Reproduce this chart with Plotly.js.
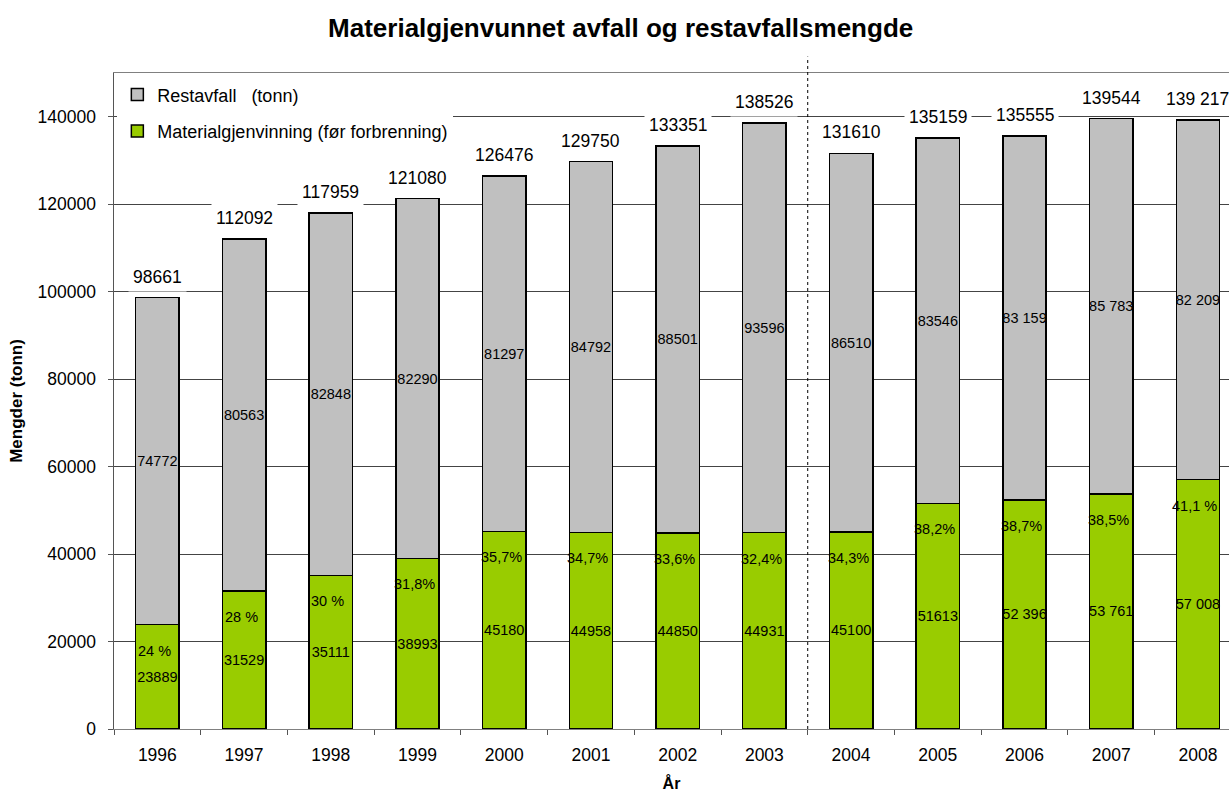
<!DOCTYPE html>
<html>
<head>
<meta charset="utf-8">
<script src="https://cdn.plot.ly/plotly-3.0.1.min.js"></script>
<style>html,body{margin:0;padding:0;background:#fff;}#chart{width:1229px;height:792px;}</style>
</head>
<body>
<div id="chart"></div>
<script>
const years = ['1996','1997','1998','1999','2000','2001','2002','2003','2004','2005','2006','2007','2008'];
const restavfall = [74772,80563,82848,82290,81297,84792,88501,93596,86510,83546,83159,85783,82209];
const materialgjenvinning = [23889,31529,35111,38993,45180,44958,44850,44931,45100,51613,52396,53761,57008];
const totals = [98661,112092,117959,121080,126476,129750,133351,138526,131610,135159,135555,139544,139217];
const restLabels = ['74772','80563','82848','82290','81297','84792','88501','93596','86510','83546','83 159','85 783','82 209'];
const matLabels = ['23889','31529','35111','38993','45180','44958','44850','44931','45100','51613','52 396','53 761','57 008'];
const totalLabels = ['98661','112092','117959','121080','126476','129750','133351','138526','131610','135159','135555','139544','139 217'];
const pctLabels = ['24 %','28 %','30 %','31,8%','35,7%','34,7%','33,6%','32,4%','34,3%','38,2%','38,7%','38,5%','41,1 %'];
const separatorAfter = '2003';

const FONT = 'Liberation Sans, Arial, sans-serif';

const traceMat = {
  type: 'bar', name: 'Materialgjenvinning (før forbrenning)', legendgroup: 'b', legendrank: 2,
  x: years, y: materialgjenvinning, text: matLabels,
  textposition: 'inside', insidetextanchor: 'middle', constraintext: 'none', textangle: 0,
  textfont: {family: FONT, size: 14.5, color: '#000'},
  marker: {color: '#99CC00', line: {color: '#000', width: 1.5}},
  width: 0.5, hoverinfo: 'skip', cliponaxis: false
};
const traceRest = {
  type: 'bar', name: 'Restavfall   (tonn)', legendgroup: 'a', legendrank: 1,
  x: years, y: restavfall, text: restLabels,
  textposition: 'inside', insidetextanchor: 'middle', constraintext: 'none', textangle: 0,
  textfont: {family: FONT, size: 14.5, color: '#000'},
  marker: {color: '#C0C0C0', line: {color: '#000', width: 1.5}},
  width: 0.5, hoverinfo: 'skip', cliponaxis: false
};

const annotations = [];
years.forEach((yr, i) => {
  annotations.push({
    x: i, y: totals[i], xref: 'x', yref: 'y', text: totalLabels[i],
    showarrow: false, yanchor: 'bottom', yshift: 6,
    bgcolor: '#fff', borderpad: 4,
    font: {family: FONT, size: 17.5, color: '#000'}
  });
  annotations.push({
    x: i, y: materialgjenvinning[i], xref: 'x', yref: 'y', text: pctLabels[i],
    showarrow: false, yanchor: 'middle', yshift: -26, xshift: -3,
    font: {family: FONT, size: 14.5, color: '#000'}
  });
});

const sepIdx = years.indexOf(separatorAfter) + 0.5;

const layout = {
  width: 1229, height: 792,
  paper_bgcolor: '#fff', plot_bgcolor: '#fff',
  margin: {l: 114, r: 0, t: 73, b: 63},
  barmode: 'stack',
  font: {family: FONT, color: '#000'},
  title: {
    text: '<b>Materialgjenvunnet avfall og restavfallsmengde</b>',
    x: 0.505, xanchor: 'center', y: 0.965, yanchor: 'middle',
    font: {family: FONT, size: 26, color: '#000'}
  },
  xaxis: {
    type: 'category', range: [-0.5, 12.358],
    tickson: 'boundaries', ticks: 'outside', ticklen: 5, tickcolor: '#555',
    showline: true, linecolor: '#808080', linewidth: 1, mirror: true,
    showgrid: false, zeroline: false,
    tickfont: {family: FONT, size: 17.5, color: '#000'},
    ticklabelstandoff: 10,
    title: {text: '<b>År</b>', font: {family: FONT, size: 16, color: '#000'}, standoff: 14}
  },
  yaxis: {
    range: [0, 150000], dtick: 20000, tick0: 0, tickformat: 'd',
    ticks: 'outside', ticklen: 5, tickcolor: '#555',
    showline: true, linecolor: '#555', linewidth: 1.5,
    showgrid: true, gridcolor: '#444', gridwidth: 1,
    zeroline: false,
    tickfont: {family: FONT, size: 17.5, color: '#000'},
    ticklabelstandoff: 8,
    title: {text: '<b>Mengder (tonn)</b>', font: {family: FONT, size: 17, color: '#000'}, standoff: 10}
  },
  showlegend: true,
  legend: {
    x: 0.003, y: 0.995, xanchor: 'left', yanchor: 'top',
    bgcolor: '#fff', borderwidth: 0,
    traceorder: 'grouped', tracegroupgap: 10,
    font: {family: FONT, size: 18, color: '#000'}
  },
  shapes: [{
    type: 'line', xref: 'x', yref: 'paper', x0: sepIdx, x1: sepIdx, y0: 0, y1: 1.025,
    line: {color: '#000', width: 1, dash: 'dot'}, layer: 'above'
  }],
  annotations: annotations
};

Plotly.newPlot('chart', [traceMat, traceRest], layout, {displayModeBar: false, staticPlot: true});
</script>
</body>
</html>
